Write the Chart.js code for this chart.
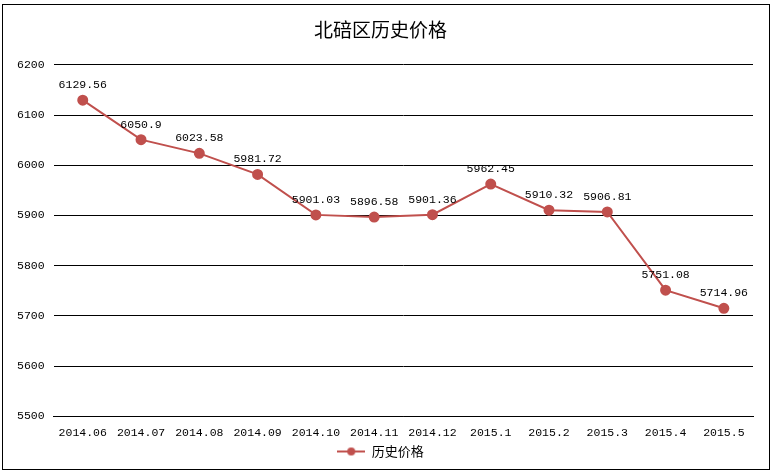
<!DOCTYPE html>
<html>
<head>
<meta charset="utf-8">
<script src="https://cdn.jsdelivr.net/npm/chart.js@4/dist/chart.umd.min.js"></script>
<style>
    body { margin: 0; background: #fff; }
    #wrap { position: relative; width: 774px; height: 474px; }
    #frame { position: absolute; left: 2px; top: 4px; width: 766px; height: 464px; border: 1px solid #000; pointer-events: none; }
</style>
</head>
<body>
<div id="wrap">
    <canvas id="chart" width="774" height="474"></canvas>
    <div id="frame"></div>
</div>
<script>
var months = ['2014.06', '2014.07', '2014.08', '2014.09', '2014.10', '2014.11', '2014.12', '2015.1', '2015.2', '2015.3', '2015.4', '2015.5'];
var prices = [6129.56, 6050.9, 6023.58, 5981.72, 5901.03, 5896.58, 5901.36, 5962.45, 5910.32, 5906.81, 5751.08, 5714.96];
var seriesName = '历史价格';
var lineColor = '#C0504D';
var monoFont = '"Liberation Mono", "DejaVu Sans Mono", monospace';
var cjkFont = '"Noto Sans CJK SC", sans-serif';

// legend marker: short line with a dot in the middle
var marker = document.createElement('canvas');
marker.width = 28;
marker.height = 10;
var mctx = marker.getContext('2d');
mctx.strokeStyle = lineColor;
mctx.lineWidth = 2;
mctx.beginPath();
mctx.moveTo(0, 5);
mctx.lineTo(28, 5);
mctx.stroke();
mctx.fillStyle = lineColor;
mctx.beginPath();
mctx.arc(14, 5, 4, 0, Math.PI * 2);
mctx.fill();

// values written above each point
var valueLabels = {
    id: 'valueLabels',
    afterDatasetsDraw: function (chart) {
        var ctx = chart.ctx;
        var meta = chart.getDatasetMeta(0);
        ctx.save();
        ctx.font = '11.5px ' + monoFont;
        ctx.fillStyle = '#000';
        ctx.textAlign = 'center';
        ctx.textBaseline = 'middle';
        meta.data.forEach(function (pt, i) {
            ctx.fillText(String(prices[i]), pt.x, pt.y - 15);
        });
        ctx.restore();
    }
};

new Chart(document.getElementById('chart'), {
    type: 'line',
    data: {
        labels: months,
        datasets: [{
            label: seriesName,
            data: prices,
            borderColor: lineColor,
            backgroundColor: lineColor,
            borderWidth: 2,
            pointRadius: 4.5,
            pointHoverRadius: 4.5,
            pointBackgroundColor: lineColor,
            pointBorderColor: lineColor,
            pointStyle: 'circle',
            tension: 0
        }]
    },
    options: {
        responsive: false,
        animation: false,
        layout: { padding: { left: 8, right: 21, top: 0, bottom: 6 } },
        plugins: {
            title: {
                display: true,
                text: '北碚区历史价格',
                color: '#000',
                font: { family: cjkFont, size: 19, weight: 'normal' },
                padding: { top: 18, bottom: 24 }
            },
            legend: {
                position: 'bottom',
                labels: {
                    usePointStyle: true,
                    pointStyleWidth: 28,
                    color: '#000',
                    font: { family: cjkFont, size: 13 },
                    padding: 3,
                    generateLabels: function (chart) {
                        return [{
                            text: seriesName,
                            pointStyle: marker,
                            fillStyle: lineColor,
                            strokeStyle: lineColor,
                            lineWidth: 0,
                            datasetIndex: 0
                        }];
                    }
                }
            },
            tooltip: { enabled: false }
        },
        scales: {
            x: {
                offset: true,
                grid: { display: false },
                border: { display: true, color: '#000', width: 1 },
                ticks: { color: '#000', font: { family: monoFont, size: 11.5 }, maxRotation: 0, autoSkip: false, padding: 2 }
            },
            y: {
                min: 5500,
                max: 6200,
                ticks: {
                    stepSize: 100,
                    color: '#000',
                    font: { family: monoFont, size: 11.5 },
                    padding: 9,
                    callback: function (v) { return String(v); }
                },
                grid: { color: '#000', lineWidth: 1, drawTicks: false },
                border: { display: false }
            }
        }
    },
    plugins: [valueLabels]
});
</script>
</body>
</html>
